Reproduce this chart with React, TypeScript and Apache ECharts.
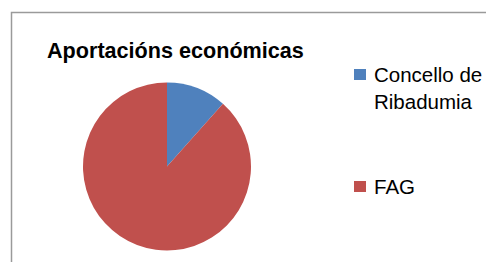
import React, { useEffect, useRef } from "react";
import * as echarts from "echarts";

const categories = ["Concello de Ribadumia", "FAG"];
const values = [11.6, 88.4];
const colors = ["#4F81BD", "#C0504D"];
const title = "Aportacións económicas";

export default function App() {
  const ref = useRef<HTMLDivElement>(null);
  useEffect(() => {
    if (!ref.current) return;
    const chart = echarts.init(ref.current, undefined, { renderer: "svg" });
    const font = "'Liberation Sans', Arial, sans-serif";
    chart.setOption({
      animation: false,
      backgroundColor: "#ffffff",
      title: {
        text: title,
        left: 42,
        top: 34,
        textStyle: { fontFamily: font, fontSize: 21.6, fontWeight: "bold", color: "#000" },
      },
      legend: [
        {
          data: [categories[0]],
          left: 354,
          top: 61,
          padding: 0,
          orient: "vertical",
          icon: "path://M0,0H12V11H0Z M15,38L15,38",
          itemWidth: 15,
          itemHeight: 38,
          itemGap: 0,
          selectedMode: false,
          formatter: () => "Concello de\nRibadumia",
          textStyle: {
            fontFamily: font,
            fontSize: 20.5,
            lineHeight: 27,
            color: "#000",
          },
        },
        {
          data: [categories[1]],
          left: 354,
          top: 173,
          padding: 0,
          orient: "vertical",
          icon: "path://M0,0H12V11H0Z M15,11L15,11",
          itemWidth: 15,
          itemHeight: 11,
          selectedMode: false,
          textStyle: { fontFamily: font, fontSize: 20.5, lineHeight: 27, color: "#000" },
        },
      ],
      graphic: [
        {
          type: "rect",
          shape: { x: 11.5, y: 12.5, width: 520, height: 300 },
          style: { fill: "none", stroke: "#9a9a9a", lineWidth: 1.5 },
          silent: true,
          z: -1,
        },
      ],
      series: [
        {
          type: "pie",
          center: [167, 166.5],
          radius: 84,
          startAngle: 90,
          clockwise: true,
          label: { show: false },
          labelLine: { show: false },
          emphasis: { disabled: true },
          itemStyle: { borderWidth: 0 },
          data: categories.map((name, i) => ({
            name,
            value: values[i],
            itemStyle: { color: colors[i] },
          })),
        },
      ],
    });
    return () => chart.dispose();
  }, []);
  return (
    <div
      ref={ref}
      style={{ position: "absolute", left: 0, top: 0, width: 486, height: 262 }}
    />
  );
}
